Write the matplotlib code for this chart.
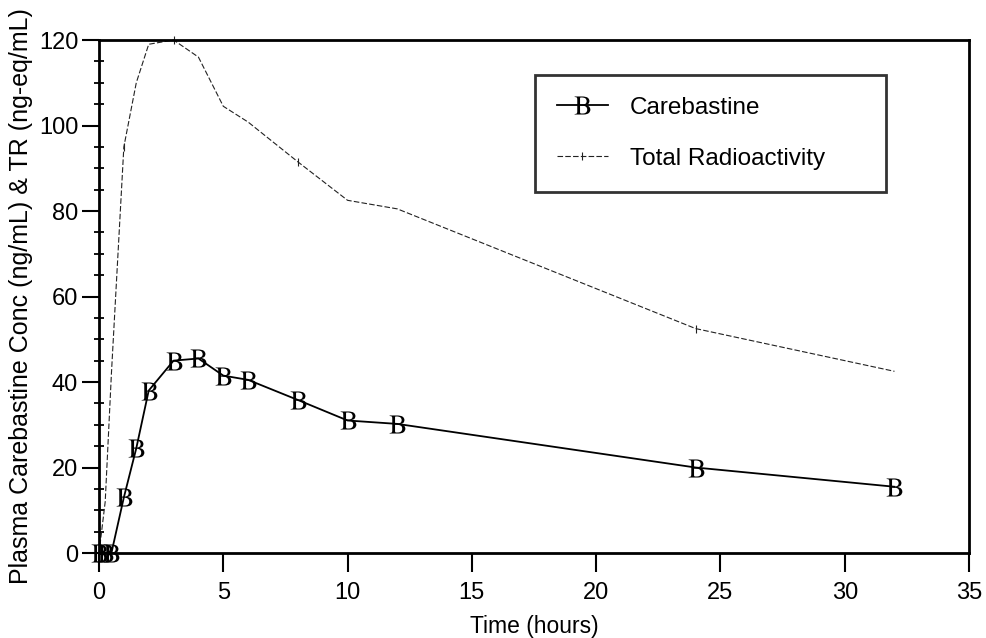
import matplotlib
matplotlib.use("Agg")
import matplotlib.pyplot as plt
from matplotlib.ticker import MultipleLocator

plt.rcParams["font.family"] = ["Liberation Sans", "DejaVu Sans"]
plt.rcParams["mathtext.fontset"] = "stix"

# sampling times (hours)
time_h = [0, 0.25, 0.5, 1, 1.5, 2, 3, 4, 5, 6, 8, 10, 12, 24, 32]
# plasma carebastine (ng/mL)
carebastine = [0, 0, 0, 13, 24.5, 38, 45, 45.5, 41.5, 40.5, 35.8, 31, 30.2, 20, 15.5]
# total radioactivity (ng-eq/mL)
total_radio = [0, 12, 42, 95, 110, 119, 120, 116, 104.5, 100.8, 91.5, 82.5, 80.5, 52.5, 42.5]

fig = plt.figure(figsize=(9.86, 6.38), dpi=100)
ax = fig.add_axes([0.1004, 0.1332, 0.8824, 0.8041])

ax.plot(time_h, carebastine, color="black", linewidth=1.3,
        marker="$\\mathrm{B}$", markersize=13, markeredgewidth=0,
        label="Carebastine", clip_on=False, zorder=3)
ax.plot(time_h, total_radio, color="#222222", linewidth=0.8,
        linestyle=(0, (5, 2)), marker="|", markersize=6,
        markeredgewidth=0.8, markevery=[3, 6, 10, 13],
        label="Total Radioactivity", clip_on=False, zorder=2)

ax.set_xlim(0, 35)
ax.set_ylim(0, 120)
ax.xaxis.set_major_locator(MultipleLocator(5))
ax.yaxis.set_major_locator(MultipleLocator(20))
ax.yaxis.set_minor_locator(MultipleLocator(5))

for s in ax.spines.values():
    s.set_linewidth(2)
ax.tick_params(axis="x", which="major", direction="out", length=14, width=1.5,
               labelsize=17, pad=7)
ax.tick_params(axis="y", which="major", direction="out", length=12, width=1.5,
               labelsize=17, pad=3)
ax.tick_params(axis="y", which="minor", direction="inout", length=7, width=1.3)

ax.set_xlabel("Time (hours)", fontsize=16.5, labelpad=8)
ax.set_ylabel("Plasma Carebastine Conc (ng/mL) & TR (ng-eq/mL)", fontsize=18,
              labelpad=4)

leg = ax.legend(loc="upper left", bbox_to_anchor=(0.501, 0.708, 0.404, 0.224),
                mode="expand", fontsize=17.5, frameon=True, fancybox=False,
                borderpad=0.9, labelspacing=1.2, handlelength=2.1,
                handletextpad=0.9, borderaxespad=0)
leg.get_frame().set_edgecolor("black")
leg.get_frame().set_linewidth(2)

fig.savefig("out.png", dpi=100)
